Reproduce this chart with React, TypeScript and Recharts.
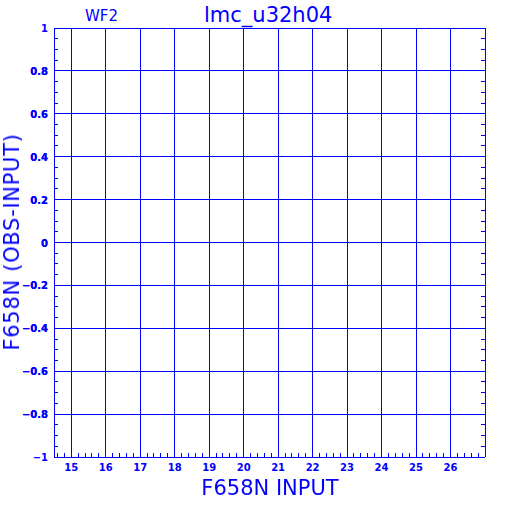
import React from 'react';
import { ScatterChart, Scatter, XAxis, YAxis, ReferenceLine } from 'recharts';

const BLUE = '#0000ff';
const FONT = '"DejaVu Sans", sans-serif';

const xMajor = [15, 16, 17, 18, 19, 20, 21, 22, 23, 24, 25, 26];
const yMajor = [-1, -0.8, -0.6, -0.4, -0.2, 0, 0.2, 0.4, 0.6, 0.8, 1];
const xDomain: [number, number] = [14.5, 27];
const yDomain: [number, number] = [-1, 1];
const points: { x: number; y: number }[] = [];

// minor tick positions: every 0.2 on x, every 0.05 on y
const steps = (from: number, to: number, step: number) => {
  const out: number[] = [];
  const n = Math.round((to - from) / step);
  for (let i = 0; i <= n; i++) out.push(Math.round((from + i * step) * 1000) / 1000);
  return out;
};
const xMinor = steps(14.6, 26.8, 0.2);
const yMinor = steps(-0.95, 0.95, 0.05);

const isMajor = (v: number, step: number) => Math.abs(v / step - Math.round(v / step)) < 1e-6;
const fmt = (v: number) => (v < 0 ? '\u2212' + String(Math.abs(v)) : String(v));

const BottomTick = (props: any) => {
  const { x, y, payload } = props;
  const v = payload.value;
  return (
    <g>
      <line x1={x} x2={x} y1={y} y2={y - 4} stroke={BLUE} />
      {isMajor(v, 1) && (
        <text x={x} y={y + 14} textAnchor="middle" fill={BLUE} fontSize={10} fontWeight="bold" fontFamily={FONT}>
          {fmt(v)}
        </text>
      )}
    </g>
  );
};

const TopTick = (props: any) => {
  const { x, y } = props;
  return <line x1={x} x2={x} y1={y} y2={y + 4} stroke={BLUE} />;
};

const LeftTick = (props: any) => {
  const { x, y, payload } = props;
  const v = payload.value;
  return (
    <g>
      <line x1={x} x2={x + 4} y1={y} y2={y} stroke={BLUE} />
      {isMajor(v, 0.2) && (
        <text x={x - 6} y={y + 4} textAnchor="end" fill={BLUE} fontSize={10} fontWeight="bold" fontFamily={FONT}>
          {fmt(v)}
        </text>
      )}
    </g>
  );
};

const RightTick = (props: any) => {
  const { x, y } = props;
  return <line x1={x} x2={x - 4} y1={y} y2={y} stroke={BLUE} />;
};

export default function App() {
  return (
    <div style={{ position: 'fixed', left: 0, top: 0, width: 512, height: 512, background: 'white', fontFamily: FONT }}>
      <style>{'svg line, svg path { shape-rendering: crispEdges; }'}</style>
      <ScatterChart width={512} height={512} margin={{ top: 27, right: 26, bottom: 25, left: 0 }}>
        <XAxis
          xAxisId="b"
          type="number"
          dataKey="x"
          orientation="bottom"
          domain={xDomain}
          ticks={xMinor}
          interval={0}
          height={30}
          tickSize={0}
          tickMargin={0}
          tickLine={false}
          axisLine={{ stroke: BLUE }}
          tick={<BottomTick />}
          allowDataOverflow
        />
        <XAxis
          xAxisId="t"
          type="number"
          orientation="top"
          domain={xDomain}
          ticks={xMinor}
          interval={0}
          height={1}
          tickSize={0}
          tickMargin={0}
          tickLine={false}
          axisLine={{ stroke: BLUE }}
          tick={<TopTick />}
          allowDataOverflow
        />
        <YAxis
          yAxisId="l"
          type="number"
          dataKey="y"
          orientation="left"
          domain={yDomain}
          ticks={[...yMinor, ...yMajor]}
          interval={0}
          width={54}
          tickSize={0}
          tickMargin={0}
          tickLine={false}
          axisLine={{ stroke: BLUE }}
          tick={<LeftTick />}
          allowDataOverflow
        />
        <YAxis
          yAxisId="r"
          type="number"
          orientation="right"
          domain={yDomain}
          ticks={yMinor}
          interval={0}
          width={1}
          tickSize={0}
          tickMargin={0}
          tickLine={false}
          axisLine={{ stroke: BLUE }}
          tick={<RightTick />}
          allowDataOverflow
        />
        {xMajor.map(v => (
          <ReferenceLine key={'x' + v} xAxisId="b" yAxisId="l" x={v} stroke={BLUE} />
        ))}
        {yMajor.map(v => (
          <ReferenceLine key={'y' + v} xAxisId="b" yAxisId="l" y={v} stroke={BLUE} />
        ))}
        <Scatter data={points} xAxisId="b" yAxisId="l" fill={BLUE} isAnimationActive={false} />
      </ScatterChart>
      <div style={{ position: 'absolute', left: 85, top: 6, fontSize: 15, color: BLUE, lineHeight: '20px' }}>WF2</div>
      <div style={{ position: 'absolute', left: 204, top: 2, fontSize: 21, color: BLUE, lineHeight: '26px' }}>lmc_u32h04</div>
      <div style={{ position: 'absolute', left: 0, width: 540, top: 475, textAlign: 'center', fontSize: 21, color: BLUE, lineHeight: '26px' }}>
        F658N INPUT
      </div>
      <div
        style={{
          position: 'absolute',
          left: 12,
          top: 242,
          transform: 'translate(-50%, -50%) rotate(-90deg)',
          whiteSpace: 'nowrap',
          fontSize: 21,
          letterSpacing: 0.7,
          color: BLUE,
          lineHeight: '26px',
        }}
      >
        F658N (OBS-INPUT)
      </div>
    </div>
  );
}
